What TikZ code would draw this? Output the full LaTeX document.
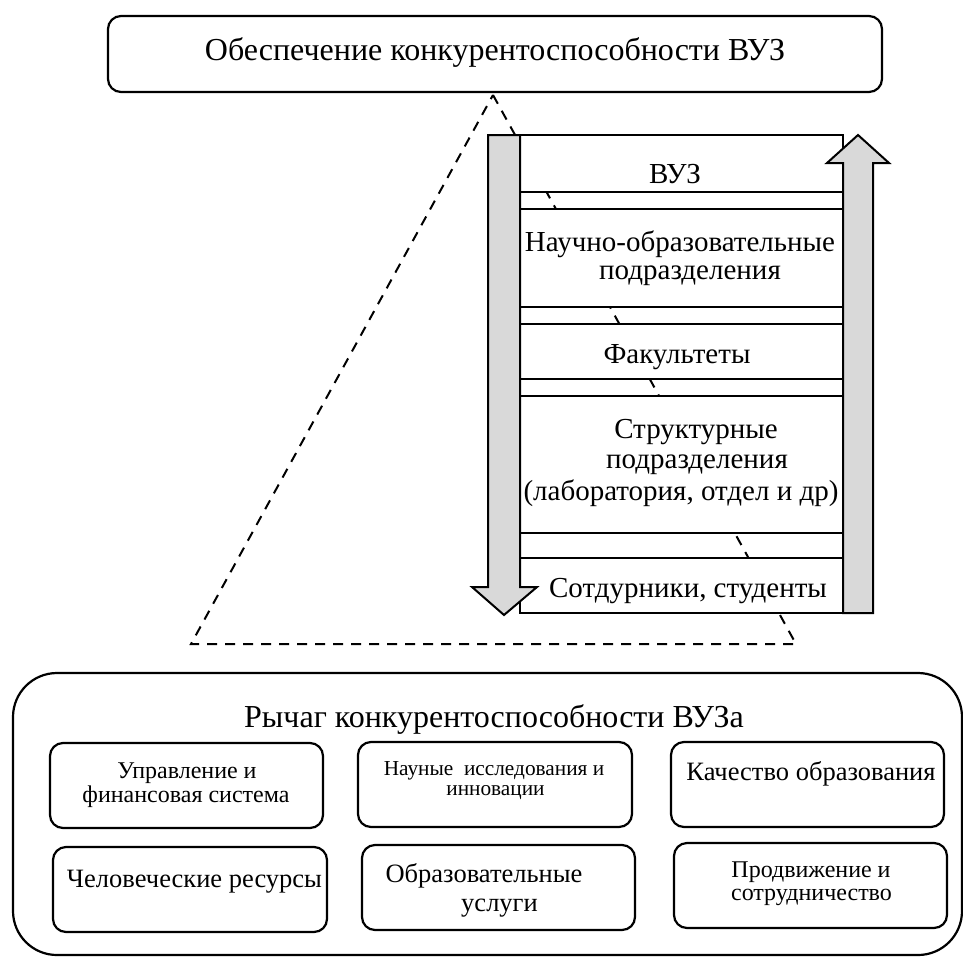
\documentclass[tikz,border=0pt]{standalone}
\usepackage{fontspec}
\setmainfont{Liberation Serif}
\definecolor{arrowgray}{RGB}{217,217,217}
\tikzset{
  rbox/.style={draw, line width=2.2pt, rounded corners=13pt, fill=white, inner sep=0pt},
  bigbox/.style={draw, line width=2.2pt, rounded corners=44pt, inner sep=0pt},
  colbox/.style={draw, line width=2pt, fill=white, inner sep=0pt, minimum width=323pt},
  tri/.style={draw, line width=2pt, dash pattern=on 10pt off 8pt},
  garrow/.style={draw, line width=2pt, fill=arrowgray, line join=miter},
  lbl/.style={anchor=base, inner sep=0pt},
  fA/.style={font=\fontsize{32}{34}\selectfont},
  fB/.style={font=\fontsize{29}{30}\selectfont},
  fC/.style={font=\fontsize{26.5}{28}\selectfont},
  fD/.style={font=\fontsize{24}{26}\selectfont},
  fE/.style={font=\fontsize{21.3}{23}\selectfont},
}
\begin{document}
\begin{tikzpicture}[x=1pt,y=-1pt]
\useasboundingbox (0,0) rectangle (963,956);
% top box
\node[rbox, minimum width=774pt, minimum height=76pt] (top) at (495,54) {};
\node[lbl, fA] (toptxt) at (495,60) {Обеспечение конкурентоспособности ВУЗ};
% dashed triangle
\coordinate (apex) at (493,95);
\coordinate (bl) at (191,644);
\coordinate (br) at (796,644);
\draw[tri] (apex) -- (br) -- (bl) -- cycle;
% column boxes
\node[colbox, minimum height=57pt] (b1) at (681.5,163.5) {};
\node[colbox, minimum height=98pt] (b2) at (681.5,258) {};
\node[colbox, minimum height=55pt] (b3) at (681.5,351.5) {};
\node[colbox, minimum height=137pt] (b4) at (681.5,464.5) {};
\node[colbox, minimum height=55pt] (b5) at (681.5,585.5) {};
% arrows
\draw[garrow] (488,135) -- (520,135) -- (520,587) -- (537,587) -- (504,615) -- (472,587) -- (488,587) -- cycle;
\draw[garrow] (843,613) -- (843,163) -- (827,163) -- (858,135) -- (889,163) -- (873,163) -- (873,613) -- cycle;
% column texts
\node[lbl, fB] (t1) at (675,183) {ВУЗ};
\node[lbl, fB] (t2a) at (680,251) {Научно-образовательные};
\node[lbl, fB] (t2b) at (690,279) {подразделения};
\node[lbl, fB] (t3) at (677,363) {Факультеты};
\node[lbl, fB] (t4a) at (696,438) {Структурные};
\node[lbl, fB] (t4b) at (697,468) {подразделения};
\node[lbl, fB] (t4c) at (681,500) {(лаборатория, отдел и др)};
\node[lbl, fB] (t5) at (688,597) {Сотдурники, студенты};
% bottom section
\node[bigbox, minimum width=949pt, minimum height=282pt] (lever) at (487.5,814) {};
\node[lbl, fA] (levertxt) at (494,727) {Рычаг конкурентоспособности ВУЗа};
\node[rbox, minimum width=273pt, minimum height=85pt] (A) at (186.5,785.5) {};
\node[rbox, minimum width=274pt, minimum height=85pt] (B) at (495,784.5) {};
\node[rbox, minimum width=273pt, minimum height=85pt] (C) at (807.5,784.5) {};
\node[rbox, minimum width=274pt, minimum height=85pt] (D) at (190,889.5) {};
\node[rbox, minimum width=273pt, minimum height=85pt] (E) at (498.5,887.5) {};
\node[rbox, minimum width=273pt, minimum height=85pt] (F) at (810.5,885.5) {};
\node[lbl, fD] (Aa) at (187,778) {Управление и};
\node[lbl, fD] (Ab) at (186,802) {финансовая система};
\node[lbl, fE] (Ba) at (494,775) {Науные\ \ исследования и};
\node[lbl, fE] (Bb) at (495.5,795) {инновации};
\node[lbl, fC] (Ca) at (811,780) {Качество образования};
\node[lbl, fC] (Da) at (194.5,887) {Человеческие ресурсы};
\node[lbl, fC] (Ea) at (484,882) {Образовательные};
\node[lbl, fC] (Eb) at (499.5,911) {услуги};
\node[lbl, fD] (Fa) at (811,877) {Продвижение и};
\node[lbl, fD] (Fb) at (811.5,900) {сотрудничество};
\end{tikzpicture}
\end{document}
